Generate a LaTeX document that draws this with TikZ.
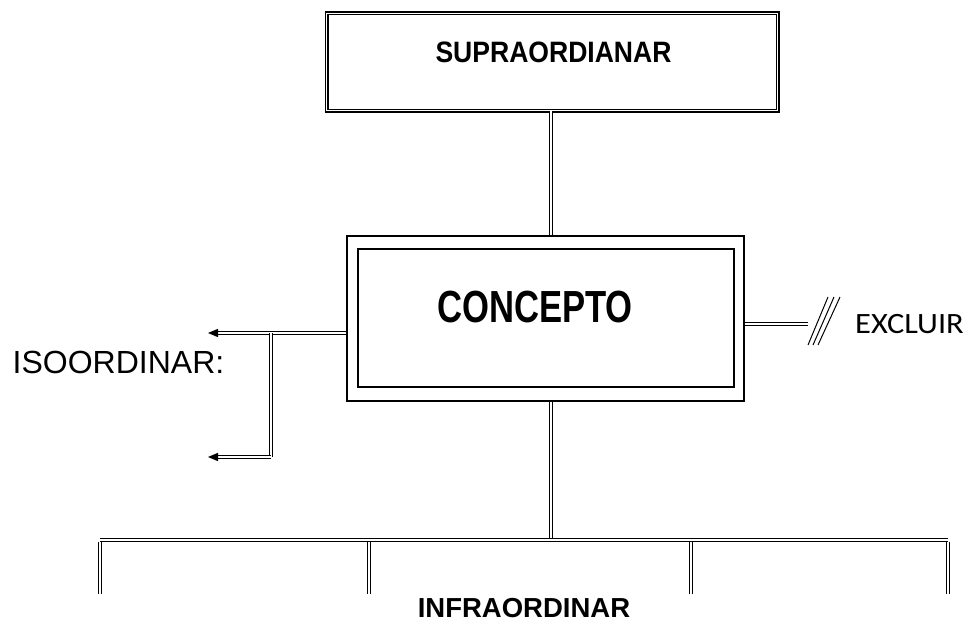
\documentclass[tikz,border=0pt]{standalone}
\usepackage{fontspec}
\setmainfont{Liberation Sans}
\newfontfamily\calib{Carlito}
\tikzset{
  dbl/.style={draw, double, line width=1.1pt, double distance=1.8pt},
  boxline/.style={draw, line width=1.4pt, inner sep=0pt, rectangle},
  headfill/.style={fill=black},
  slash/.style={draw, line width=1pt},
}
\begin{document}
\begin{tikzpicture}[x=1pt,y=-1pt]
\useasboundingbox[fill=white] (0,0) rectangle (969,626);
% top box
\node[dbl, rectangle, inner sep=0pt, minimum width=451pt, minimum height=97pt] (sup) at (552,62) {};
\node[anchor=base, inner sep=0pt] (suptxt) at (553.5,63)
  {\fontsize{29.5}{30}\selectfont\bfseries\scalebox{0.9}[1]{SUPRAORDIANAR}};
% concept box
\node[boxline, minimum width=397pt, minimum height=165pt] (concept) at (545.5,318.5) {};
\node[boxline, minimum width=376pt, minimum height=138pt] (conceptin) at (546,318) {};
\node[anchor=base, inner sep=0pt] (concepttxt) at (535,322)
  {\fontsize{45}{46}\selectfont\bfseries\scalebox{0.77}[1]{CONCEPTO}};
% vertical axis
\coordinate (vx) at (551,0);
\draw[dbl] (sup.south -| vx) -- (concept.north -| vx);
% left connectors
\coordinate (ly) at (0,333);
\coordinate (a1) at (208,333);
\coordinate (a1e) at (215,333);
\coordinate (br) at (271,333);
\coordinate (bb) at (271,457);
\coordinate (a2) at (208,457);
\coordinate (a2e) at (215,457);
\draw[dbl] (concept.west |- ly) -- (a1e);
\draw[dbl] (br) -- (bb);
\draw[dbl] (bb) -- (a2e);
\path[headfill] (a1) -- ++(10,-4.2) -- ++(0,8.4) -- cycle;
\path[headfill] (a2) -- ++(10,-4.2) -- ++(0,8.4) -- cycle;
\node[anchor=base, inner sep=0pt] (iso) at (118.5,373)
  {\fontsize{32}{34}\selectfont ISOORDINAR:};
% right connector
\coordinate (ry) at (0,324);
\coordinate (re) at (808,324);
\draw[dbl] (concept.east |- ry) -- (re);
\coordinate (s1a) at (808,345); \coordinate (s1b) at (828,297);
\coordinate (s2a) at (813,345); \coordinate (s2b) at (834,297);
\coordinate (s3a) at (818,345); \coordinate (s3b) at (840,297);
\draw[slash] (s1a) -- (s1b);
\draw[slash] (s2a) -- (s2b);
\draw[slash] (s3a) -- (s3b);
\node[anchor=base west, inner sep=0pt] (excl) at (855,333)
  {\calib\fontsize{29.5}{31}\selectfont\scalebox{1.1}[1]{EXCLUIR}};
% bottom tree
\coordinate (bar) at (551,540);
\coordinate (bl) at (100,540);
\coordinate (brt) at (948,540);
\draw[dbl] (concept.south -| vx) -- (bar);
\draw[dbl] (bl) -- (brt);
\foreach \x/\n in {100/l1,369/l2,691/l3,948/l4}{
  \coordinate (\n t) at (\x,541.5);
  \coordinate (\n b) at (\x,594);
  \draw[dbl] (\n t) -- (\n b);
}
\node[anchor=base, inner sep=0pt] (infra) at (524,617)
  {\fontsize{27.5}{28}\selectfont\bfseries INFRAORDINAR};
\end{tikzpicture}
\end{document}
